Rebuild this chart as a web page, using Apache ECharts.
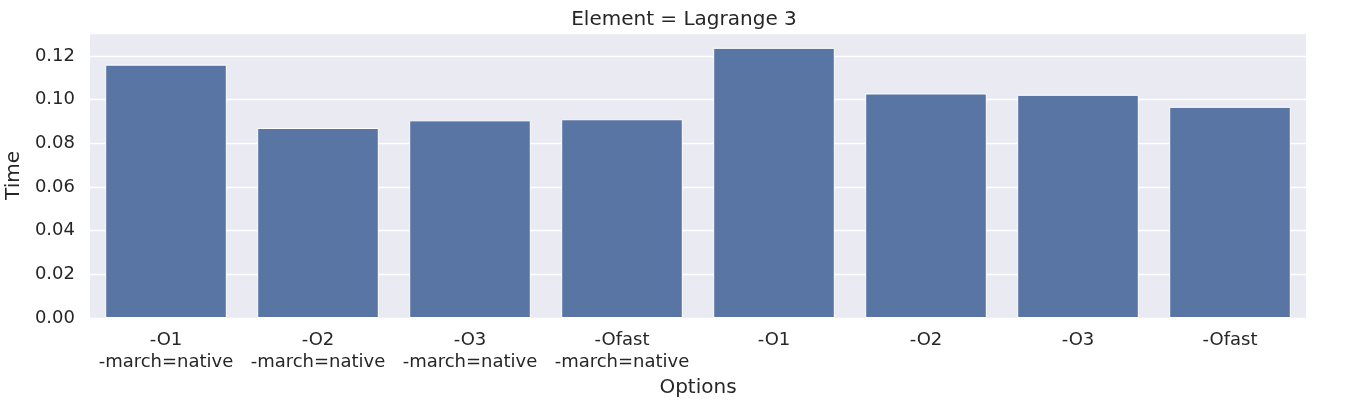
<!DOCTYPE html>
<html>
<head>
<meta charset="utf-8">
<script src="https://cdn.jsdelivr.net/npm/echarts@6/dist/echarts.min.js"></script>
<style>
  html, body { margin: 0; padding: 0; background: #fff; }
  #chart { width: 1368px; height: 405px; }
</style>
</head>
<body>
<div id="chart"></div>
<script>
var categories = [
  "-O1\n-march=native",
  "-O2\n-march=native",
  "-O3\n-march=native",
  "-Ofast\n-march=native",
  "-O1",
  "-O2",
  "-O3",
  "-Ofast"
];
var times = [0.1160, 0.0870, 0.0905, 0.0910, 0.1237, 0.1028, 0.1022, 0.0967];
var yTicks = [0, 0.02, 0.04, 0.06, 0.08, 0.10, 0.12];

var font = "DejaVu Sans";
var chart = echarts.init(document.getElementById("chart"));

chart.setOption({
  animation: false,
  backgroundColor: "#ffffff",
  title: {
    text: "Element = Lagrange 3",
    left: "center",
    top: 5,
    textStyle: { fontFamily: font, fontSize: 20, fontWeight: "normal", color: "#262626" }
  },
  grid: {
    left: 90,
    right: 62,
    top: 33,
    bottom: 87,
    outerBoundsMode: "none",
    containLabel: false,
    show: true,
    backgroundColor: "#EAEAF2",
    borderWidth: 0
  },
  xAxis: {
    type: "category",
    data: categories,
    name: "Options",
    nameLocation: "middle",
    nameGap: 55,
    nameTextStyle: { fontFamily: font, fontSize: 20, color: "#262626" },
    axisLine: { show: false },
    axisTick: { show: false },
    axisLabel: {
      fontFamily: font,
      fontSize: 18,
      color: "#262626",
      margin: 11,
      lineHeight: 22,
      interval: 0
    },
    splitLine: { show: false }
  },
  yAxis: {
    type: "value",
    min: 0,
    max: 0.1305,
    interval: 0.02,
    name: "Time",
    nameLocation: "middle",
    nameGap: 57,
    nameTextStyle: { fontFamily: font, fontSize: 20, color: "#262626" },
    axisLine: { show: false },
    axisTick: { show: false },
    axisLabel: {
      fontFamily: font,
      fontSize: 18,
      color: "#262626",
      margin: 15,
      showMaxLabel: false,
      formatter: function (v) {
        return yTicks.some(function (t) { return Math.abs(t - v) < 1e-9; }) ? v.toFixed(2) : "";
      }
    },
    splitLine: { show: true, lineStyle: { color: "#ffffff", width: 1.3 } }
  },
  series: [
    {
      type: "bar",
      data: times,
      barWidth: "80%",
      itemStyle: { color: "#5975A4", borderColor: "#ffffff", borderWidth: 1 }
    }
  ]
});
</script>
</body>
</html>
